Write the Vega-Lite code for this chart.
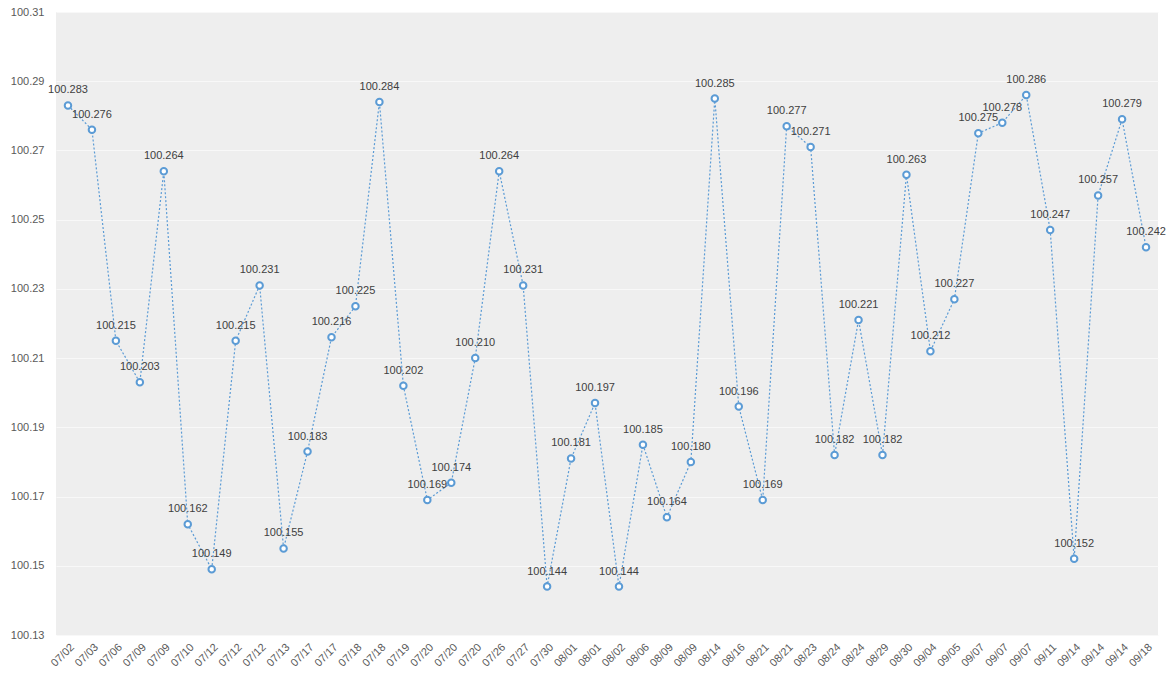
{
  "$schema": "https://vega.github.io/schema/vega-lite/v6.json",
  "width": 1102,
  "height": 623,
  "autosize": "none",
  "padding": {"left": 56, "top": 12, "right": 11, "bottom": 55},
  "background": "white",
  "config": {
    "view": {"fill": "#eeeeee", "stroke": null},
    "font": "Liberation Sans Narrow, Liberation Sans, sans-serif"
  },
  "data": {"values": [
    {"k": "07/02|0", "v": 100.283},
    {"k": "07/03|1", "v": 100.276},
    {"k": "07/06|2", "v": 100.215},
    {"k": "07/09|3", "v": 100.203},
    {"k": "07/09|4", "v": 100.264},
    {"k": "07/10|5", "v": 100.162},
    {"k": "07/12|6", "v": 100.149},
    {"k": "07/12|7", "v": 100.215},
    {"k": "07/12|8", "v": 100.231},
    {"k": "07/13|9", "v": 100.155},
    {"k": "07/17|10", "v": 100.183},
    {"k": "07/17|11", "v": 100.216},
    {"k": "07/18|12", "v": 100.225},
    {"k": "07/18|13", "v": 100.284},
    {"k": "07/19|14", "v": 100.202},
    {"k": "07/20|15", "v": 100.169},
    {"k": "07/20|16", "v": 100.174},
    {"k": "07/20|17", "v": 100.210},
    {"k": "07/26|18", "v": 100.264},
    {"k": "07/27|19", "v": 100.231},
    {"k": "07/30|20", "v": 100.144},
    {"k": "08/01|21", "v": 100.181},
    {"k": "08/01|22", "v": 100.197},
    {"k": "08/02|23", "v": 100.144},
    {"k": "08/06|24", "v": 100.185},
    {"k": "08/09|25", "v": 100.164},
    {"k": "08/09|26", "v": 100.180},
    {"k": "08/14|27", "v": 100.285},
    {"k": "08/16|28", "v": 100.196},
    {"k": "08/21|29", "v": 100.169},
    {"k": "08/21|30", "v": 100.277},
    {"k": "08/23|31", "v": 100.271},
    {"k": "08/24|32", "v": 100.182},
    {"k": "08/24|33", "v": 100.221},
    {"k": "08/29|34", "v": 100.182},
    {"k": "08/30|35", "v": 100.263},
    {"k": "09/04|36", "v": 100.212},
    {"k": "09/05|37", "v": 100.227},
    {"k": "09/07|38", "v": 100.275},
    {"k": "09/07|39", "v": 100.278},
    {"k": "09/07|40", "v": 100.286},
    {"k": "09/11|41", "v": 100.247},
    {"k": "09/14|42", "v": 100.152},
    {"k": "09/14|43", "v": 100.257},
    {"k": "09/14|44", "v": 100.279},
    {"k": "09/18|45", "v": 100.242}
  ]},
  "encoding": {
    "x": {
      "field": "k", "type": "ordinal", "sort": null,
      "scale": {"type": "point", "padding": 0.5},
      "axis": {
        "title": null, "labelAngle": -45, "labelExpr": "split(datum.value, '|')[0]",
        "labelColor": "#595959", "labelFontSize": 11, "domain": false, "ticks": false,
        "grid": false, "labelPadding": 6
      }
    },
    "y": {
      "field": "v", "type": "quantitative",
      "scale": {"domain": [100.13, 100.31], "zero": false, "nice": false},
      "axis": {
        "title": null, "values": [100.13, 100.15, 100.17, 100.19, 100.21, 100.23, 100.25, 100.27, 100.29, 100.31],
        "format": ".2f", "labelColor": "#595959", "labelFontSize": 11, "domain": false, "ticks": false,
        "gridColor": "#f8f8f8", "gridWidth": 1, "labelPadding": 12
      }
    }
  },
  "layer": [
    {"mark": {"type": "line", "color": "#5b9bd5", "strokeWidth": 1.2, "strokeDash": [2, 2]}},
    {"mark": {"type": "point", "shape": "circle", "filled": true, "fill": "white", "stroke": "#5b9bd5", "strokeWidth": 2, "size": 42, "opacity": 1}},
    {"mark": {"type": "text", "dy": -15, "fontSize": 11, "color": "#404040"},
     "encoding": {"text": {"field": "v", "type": "quantitative", "format": ".3f"}}}
  ]
}
